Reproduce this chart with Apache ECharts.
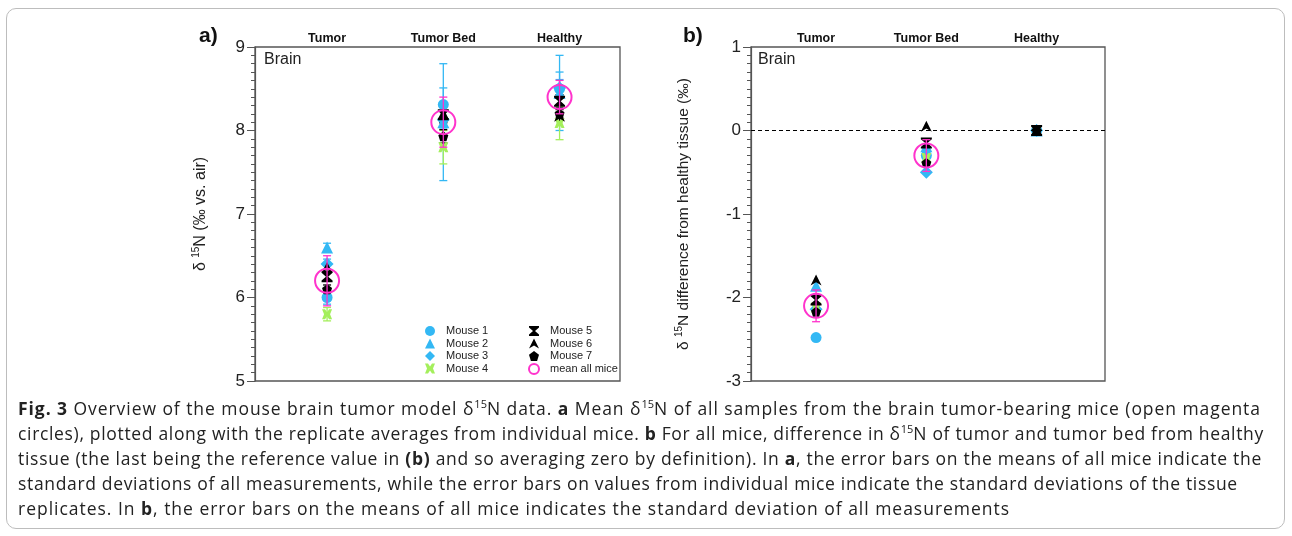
<!DOCTYPE html>
<html><head><meta charset="utf-8">
<script src="https://cdn.jsdelivr.net/npm/echarts@6/dist/echarts.min.js"></script>
<style>
html,body{margin:0;padding:0;background:#fff;}
#frame{position:absolute;left:6px;top:8px;width:1279px;height:521px;border:1px solid #bdbdbd;border-radius:10px;box-sizing:border-box;}
#chart{position:absolute;left:0;top:0;width:1292px;height:536px;}
#cap{position:absolute;left:18px;top:396px;font-family:"Open Sans",sans-serif;font-size:17.5px;line-height:25px;color:#222;white-space:nowrap;}
#cap div{height:25px;}
#cap sup{font-size:11px;line-height:0;letter-spacing:0;}
</style></head>
<body>
<div id="frame"></div>
<div id="chart"></div>
<div id="cap">
<div style="letter-spacing:0.94px"><b>Fig. 3</b> Overview of the mouse brain tumor model δ<sup>15</sup>N data. <b>a</b> Mean δ<sup>15</sup>N of all samples from the brain tumor-bearing mice (open magenta</div>
<div style="letter-spacing:0.67px">circles), plotted along with the replicate averages from individual mice. <b>b</b> For all mice, difference in δ<sup>15</sup>N of tumor and tumor bed from healthy</div>
<div style="letter-spacing:0.72px">tissue (the last being the reference value in <b>(b)</b> and so averaging zero by definition). In <b>a</b>, the error bars on the means of all mice indicate the</div>
<div style="letter-spacing:0.66px">standard deviations of all measurements, while the error bars on values from individual mice indicate the standard deviations of the tissue</div>
<div style="letter-spacing:0.98px">replicates. In <b>b</b>, the error bars on the means of all mice indicates the standard deviation of all measurements</div>
</div>
<script>
// ---- data ----
const categories = ['Tumor', 'Tumor Bed', 'Healthy'];
const mouseNames = ['Mouse 1', 'Mouse 2', 'Mouse 3', 'Mouse 4', 'Mouse 5', 'Mouse 6', 'Mouse 7'];
const meanName = 'mean all mice';
const yTicksA = [5, 6, 7, 8, 9];
const yTicksB = [-3, -2, -1, 0, 1];

// panel a: delta15N (per mil vs air), replicate averages and SDs
const mouse1A = [6.00, 8.31, 8.50];  const mouse1ASd = [0.08, 0.20, 0.20];
const mouse2A = [6.60, 8.10, 8.45];  const mouse2ASd = [0.05, 0.70, 0.45];
const mouse3A = [6.40, 8.13, 8.51];  const mouse3ASd = [0.06, 0.10, 0.10];
const mouse4A = [5.80, 7.80, 8.09];  const mouse4ASd = [0.08, 0.20, 0.20];
const mouse5A = [6.25, 8.19, 8.35];  const mouse5ASd = [0.05, 0.10, 0.08];
const mouse6A = [6.36, 8.20, 8.17];  const mouse6ASd = [0.05, 0.10, 0.05];
const mouse7A = [6.10, 7.93, 8.20];  const mouse7ASd = [0.05, 0.08, 0.05];
const meanA   = [6.20, 8.10, 8.40];  const meanASd   = [0.30, 0.30, 0.20];

// panel b: difference from healthy tissue
const mouse1B = [-2.48, -0.30, 0];
const mouse2B = [-1.86, -0.19, 0];
const mouse3B = [-2.14, -0.50, 0];
const mouse4B = [-2.12, -0.33, 0];
const mouse5B = [-2.03, -0.15, 0];
const mouse6B = [-1.79,  0.05, 0];
const mouse7B = [-2.17, -0.39, 0];
const meanB   = [-2.10, -0.30, 0];  const meanBSd = [0.19, 0.19, 0];

// ---- styles ----
const BLUE = '#33b8f4', GREEN = '#a4ef5c', BLACK = '#000', MAG = '#ff33cc';
const mouseColors = [BLUE, BLUE, BLUE, GREEN, BLACK, BLACK, BLACK];
const mouseSymbols = [
  'circle', 'triangle', 'diamond',
  'path://M0,0 L3,0 L5,3 L7,0 L10,0 L8,5 L10,10 L7,10 L5,7 L3,10 L0,10 L2,5 Z',
  'path://M0,0 L10,0 L10,1.5 L6,5 L10,8.5 L10,10 L0,10 L0,8.5 L4,5 L0,1.5 Z',
  'path://M5,0 L10,10 L5,7 L0,10 Z',
  'path://M5,0 L10,3.8 L8.1,10 L1.9,10 L0,3.8 Z'
];
const mouseSizes = [11, 12, 13, 10, 11, 11, 10];
const valsA = [mouse1A, mouse2A, mouse3A, mouse4A, mouse5A, mouse6A, mouse7A];
const sdsA = [mouse1ASd, mouse2ASd, mouse3ASd, mouse4ASd, mouse5ASd, mouse6ASd, mouse7ASd];
const valsB = [mouse1B, mouse2B, mouse3B, mouse4B, mouse5B, mouse6B, mouse7B];

const FONT = '"Liberation Sans", Arial, sans-serif';

function errRender(params, api) {
  const x = api.value(0), lo = api.value(1), hi = api.value(2);
  const c = api.value(3) < 0 ? MAG : mouseColors[api.value(3)];
  const p1 = api.coord([x, lo]), p2 = api.coord([x, hi]);
  const w = 4, st = { stroke: c, lineWidth: 1.3 };
  return { type: 'group', children: [
    { type: 'line', shape: { x1: p1[0], y1: p1[1], x2: p2[0], y2: p2[1] }, style: st },
    { type: 'line', shape: { x1: p1[0] - w, y1: p1[1], x2: p1[0] + w, y2: p1[1] }, style: st },
    { type: 'line', shape: { x1: p2[0] - w, y1: p2[1], x2: p2[0] + w, y2: p2[1] }, style: st }
  ]};
}

const series = [];
const errA = [];
sdsA.forEach((sd, m) => sd.forEach((s, i) => errA.push([i, valsA[m][i] - s, valsA[m][i] + s, m])));
series.push({ type: 'custom', name: 'errA', xAxisIndex: 0, yAxisIndex: 0, renderItem: errRender, data: errA, z: 2, silent: true });

mouseNames.forEach((n, m) => {
  series.push({ type: 'scatter', name: n, xAxisIndex: 0, yAxisIndex: 0, symbol: mouseSymbols[m], symbolSize: mouseSizes[m],
    itemStyle: { color: mouseColors[m], opacity: 1 }, data: valsA[m].map((v, i) => [i, v]), z: 3 });
});
const meanStyle = { color: 'rgba(0,0,0,0)', borderColor: MAG, borderWidth: 2, opacity: 1 };
series.push({ type: 'scatter', name: meanName, xAxisIndex: 0, yAxisIndex: 0, symbol: 'circle', symbolSize: 24,
  itemStyle: meanStyle, data: meanA.map((v, i) => [i, v]), z: 4 });
series.push({ type: 'custom', name: 'meanErrA', xAxisIndex: 0, yAxisIndex: 0, renderItem: errRender, z: 5, silent: true,
  data: meanA.map((v, i) => [i, v - meanASd[i], v + meanASd[i], -1]) });

mouseNames.forEach((n, m) => {
  series.push({ type: 'scatter', name: n, xAxisIndex: 2, yAxisIndex: 1, symbol: mouseSymbols[m], symbolSize: mouseSizes[m],
    itemStyle: { color: mouseColors[m], opacity: 1 }, data: valsB[m].map((v, i) => [i, v]), z: 3,
    markLine: m === 0 ? { silent: true, symbol: 'none', label: { show: false },
      lineStyle: { color: '#000', type: [4, 3], width: 1 }, data: [{ yAxis: 0 }] } : undefined });
});
series.push({ type: 'scatter', name: meanName, xAxisIndex: 2, yAxisIndex: 1, symbol: 'circle', symbolSize: 24,
  itemStyle: meanStyle, data: meanB.map((v, i) => [i, v]).slice(0, 2), z: 4 });
series.push({ type: 'custom', name: 'meanErrB', xAxisIndex: 2, yAxisIndex: 1, renderItem: errRender, z: 5, silent: true,
  data: meanB.map((v, i) => [i, v - meanBSd[i], v + meanBSd[i], -1]).slice(0, 2) });

function yAxis(gi, min, max, name, gap, fs) {
  return { type: 'value', gridIndex: gi, min: min, max: max, interval: 1, position: 'left',
    axisLine: { show: true, onZero: false, lineStyle: { color: '#555', width: 1.2 } },
    axisTick: { show: true, length: 8, lineStyle: { color: '#555' } },
    minorTick: { show: true, splitNumber: 10, length: 4, lineStyle: { color: '#555' } },
    splitLine: { show: false },
    axisLabel: { fontSize: 17, color: '#222', fontFamily: FONT, margin: 10 },
    name: name, nameLocation: 'middle', nameGap: gap,
    nameTextStyle: { fontSize: fs, color: '#222', fontFamily: FONT,
      rich: { sup: { fontSize: 10, fontFamily: FONT, color: '#222', verticalAlign: 'top', lineHeight: 20 },
              t: { fontSize: fs, fontFamily: FONT, color: '#222', lineHeight: 20 } } } };
}
function xAxes(gi, min, max) {
  return [
    { type: 'value', gridIndex: gi, min: min, max: max, show: false },
    { type: 'value', gridIndex: gi, min: min, max: max, position: 'top',
      axisLine: { show: false }, axisTick: { show: false }, splitLine: { show: false },
      axisLabel: { customValues: [0, 1, 2], formatter: v => categories[Math.round(v)], fontSize: 12.5, fontWeight: 'bold',
        color: '#111', fontFamily: FONT, margin: 2 } }
  ];
}

const legendBase = { orient: 'vertical', top: 325.5, itemWidth: 10, itemHeight: 10, itemGap: 1.5, padding: 0,
  textStyle: { fontSize: 11, fontFamily: FONT, color: '#222', lineHeight: 10, padding: [0, 0, 0, 6] }, selectedMode: false };

const option = {
  animation: false,
  grid: [
    { left: 255, top: 47, width: 365, height: 334, show: true, borderColor: '#555', borderWidth: 1.3 },
    { left: 751, top: 47, width: 354, height: 334, show: true, borderColor: '#555', borderWidth: 1.3 }
  ],
  xAxis: [...xAxes(0, -0.62, 2.52), ...xAxes(1, -0.59, 2.62)],
  yAxis: [
    yAxis(0, yTicksA[0], yTicksA[yTicksA.length - 1], '{t|δ }{sup|15}{t|N (‰ vs. air)}', 44, 16),
    yAxis(1, yTicksB[0], yTicksB[yTicksB.length - 1], '{t|δ }{sup|15}{t|N difference from healthy tissue (‰)}', 57, 15.5)
  ],
  legend: [
    Object.assign({ data: mouseNames.slice(0, 4), left: 425 }, legendBase),
    Object.assign({ data: [...mouseNames.slice(4), meanName], left: 528 }, legendBase)
  ],
  graphic: [
    { type: 'text', left: 199, top: 26, style: { text: 'a)', font: 'bold 21px ' + FONT, fill: '#111' } },
    { type: 'text', left: 683, top: 26, style: { text: 'b)', font: 'bold 21px ' + FONT, fill: '#111' } },
    { type: 'text', left: 264, top: 52, style: { text: 'Brain', font: '16px ' + FONT, fill: '#222' } },
    { type: 'text', left: 758, top: 52, style: { text: 'Brain', font: '16px ' + FONT, fill: '#222' } }
  ],
  series: series
};
const chart = echarts.init(document.getElementById('chart'), null, { renderer: 'canvas' });
chart.setOption(option);
</script>
</body></html>
